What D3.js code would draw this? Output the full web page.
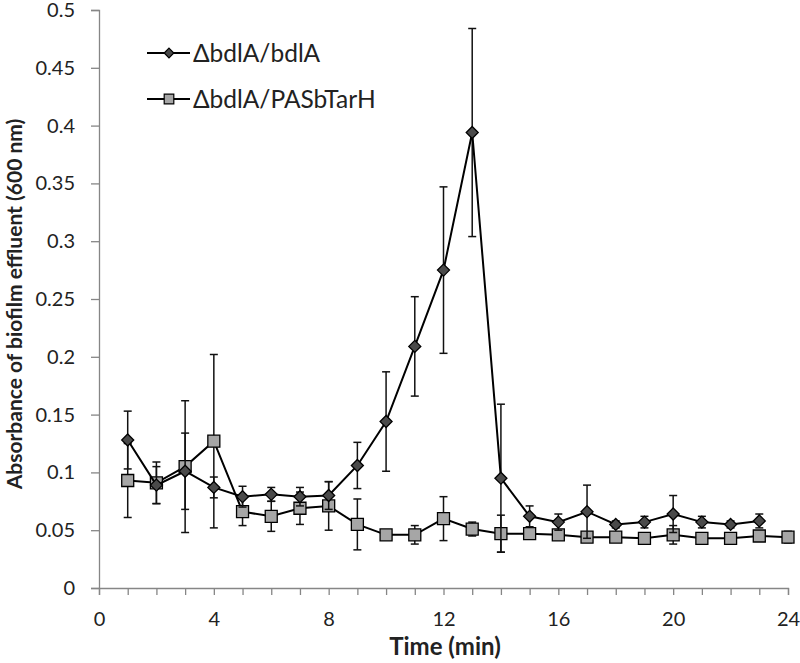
<!DOCTYPE html>
<html><head><meta charset="utf-8">
<script src="https://cdn.jsdelivr.net/npm/d3@7"></script>
<style>body{margin:0;background:#fff}</style>
</head><body>
<svg id="c" width="800" height="663"></svg>
<script>
const times = [1,2,3,4,5,6,7,8,9,10,11,12,13,14,15,16,17,18,19,20,21,22,23,24];
const bdlA = [0.128,0.089,0.101,0.087,0.079,0.081,0.079,0.080,0.106,0.144,0.209,0.275,0.394,0.095,0.062,0.057,0.066,0.055,0.057,0.064,0.057,0.055,0.058,null];
const bdlAErr = [0.025,0.016,0.033,0.009,0.009,0.006,0.008,0.012,0.020,0.043,0.043,0.072,0.090,0.064,0.009,0.007,0.023,0.003,0.005,0.016,0.005,0.003,0.006,null];
const tarH = [0.093,0.091,0.105,0.127,0.066,0.062,0.069,0.071,0.055,0.046,0.046,0.060,0.051,0.047,0.047,0.046,0.044,0.044,0.043,0.046,0.043,0.043,0.045,0.044];
const tarHErr = [0.032,0.018,0.057,0.075,0.012,0.013,0.014,0.021,0.022,0.003,0.008,0.019,0.006,0.016,0.004,0.004,0.003,0.004,0.004,0.008,0.003,0.003,0.004,0.005];
const seriesNames = ["\u0394bdlA/bdlA","\u0394bdlA/PASbTarH"];
const xTicks = [0,4,8,12,16,20,24];
const yTicks = [0,0.05,0.1,0.15,0.2,0.25,0.3,0.35,0.4,0.45,0.5];

const svg = d3.select("#c");
const font = "Lato, 'Open Sans', sans-serif";
const x = d3.scaleLinear().domain([0,24]).range([99,788]);
const y = d3.scaleLinear().domain([0,0.5]).range([588,10]);
const axisCol = "#868686";

// y axis
const ya = svg.append("g").attr("transform","translate(99,0)")
  .call(d3.axisLeft(y).tickValues(yTicks).tickSize(8).tickPadding(16).tickFormat(d=>d3.format("")(+d.toFixed(2))));
ya.select(".domain").attr("stroke",axisCol).attr("stroke-width",1.3);
ya.selectAll(".tick line").attr("stroke",axisCol).attr("stroke-width",1.3);
ya.selectAll(".tick text").attr("font-family",font).attr("font-size",20).attr("fill","#222");

// x axis
const xa = svg.append("g").attr("transform","translate(0,588)")
  .call(d3.axisBottom(x).tickValues(d3.range(0,25)).tickSize(7).tickPadding(17)
    .tickFormat(d=>xTicks.includes(d)?d:""));
xa.select(".domain").attr("stroke",axisCol).attr("stroke-width",1.3);
xa.selectAll(".tick line").attr("stroke",axisCol).attr("stroke-width",1.3);
xa.selectAll(".tick text").attr("font-family",font).attr("font-size",20).attr("fill","#222");

svg.append("text").attr("x",445).attr("y",655).attr("text-anchor","middle")
  .attr("font-family",font).attr("font-weight","bold").attr("font-size",24).attr("fill","#222")
  .text("Time (min)");
svg.append("text").attr("transform","translate(22,304) rotate(-90)").attr("text-anchor","middle")
  .attr("font-family",font).attr("font-weight","bold").attr("font-size",21).attr("fill","#222")
  .text("Absorbance of biofilm effluent (600 nm)");

function drawSeries(vals, errs, sym, fill){
  const pts = times.map((t,i)=>({t, v:vals[i], e:errs[i]})).filter(d=>d.v!=null);
  const g = svg.append("g");
  // error bars
  pts.forEach(d=>{
    const x0 = x(d.t), y1 = y(d.v+d.e), y2 = y(d.v-d.e);
    g.append("line").attr("x1",x0).attr("x2",x0).attr("y1",y1).attr("y2",y2).attr("stroke","#111").attr("stroke-width",1.5);
    [y1,y2].forEach(yy=>g.append("line").attr("x1",x0-4).attr("x2",x0+4).attr("y1",yy).attr("y2",yy).attr("stroke","#111").attr("stroke-width",1.5));
  });
  g.append("path").datum(pts).attr("fill","none").attr("stroke","#000").attr("stroke-width",2)
    .attr("d",d3.line().x(d=>x(d.t)).y(d=>y(d.v)));
  g.selectAll("path.m").data(pts).join("path").attr("class","m")
    .attr("transform",d=>`translate(${x(d.t)},${y(d.v)})`)
    .attr("d",sym).attr("fill",fill).attr("stroke","#000").attr("stroke-width",1.3);
}
const diamond = "M0,-6L6,0L0,6L-6,0Z";
const square = "M-6,-6H6V6H-6Z";
drawSeries(tarH, tarHErr, square, "#a6a6a6");
drawSeries(bdlA, bdlAErr, diamond, "#4a4a4a");

// legend
const leg = [{n:seriesNames[0],sym:diamond,fill:"#4a4a4a",yy:53,s:0.8},{n:seriesNames[1],sym:square,fill:"#a6a6a6",yy:99,s:0.8}];
leg.forEach(l=>{
  svg.append("line").attr("x1",147).attr("x2",190).attr("y1",l.yy).attr("y2",l.yy).attr("stroke","#000").attr("stroke-width",2);
  svg.append("path").attr("transform",`translate(169,${l.yy}) scale(${l.s})`).attr("d",l.sym).attr("fill",l.fill).attr("stroke","#000").attr("stroke-width",1.5);
  svg.append("text").attr("x",193).attr("y",l.yy+9).attr("font-family",font).attr("font-size",24.5).attr("fill","#222").text(l.n);
});
</script>
</body></html>
